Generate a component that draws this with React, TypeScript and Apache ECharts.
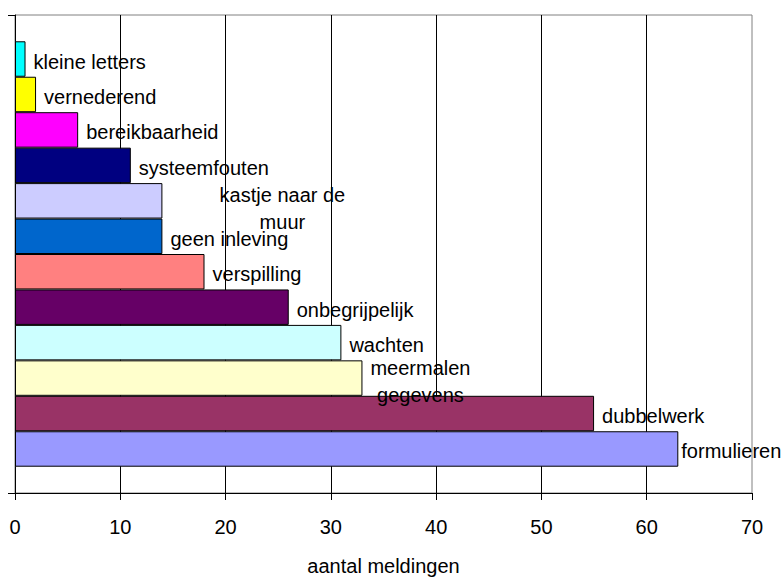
import React, { useEffect, useRef } from 'react';
import * as echarts from 'echarts';

const categories = [
  'kleine letters',
  'vernederend',
  'bereikbaarheid',
  'systeemfouten',
  'kastje naar de muur',
  'geen inleving',
  'verspilling',
  'onbegrijpelijk',
  'wachten',
  'meermalen gegevens',
  'dubbelwerk',
  'formulieren',
];
const labelTexts = [
  'kleine letters',
  'vernederend',
  'bereikbaarheid',
  'systeemfouten',
  'kastje naar de\nmuur',
  'geen inleving',
  'verspilling',
  'onbegrijpelijk',
  'wachten',
  'meermalen\ngegevens',
  'dubbelwerk',
  'formulieren',
];
const values = [1, 2, 6, 11, 14, 14, 18, 26, 31, 33, 55, 63];
const colors = [
  '#00FFFF',
  '#FFFF00',
  '#FF00FF',
  '#000080',
  '#CCCCFF',
  '#0066CC',
  '#FF8080',
  '#660066',
  '#CCFFFF',
  '#FFFFCC',
  '#993366',
  '#9999FF',
];
const axisName = 'aantal meldingen';

const FONT = '"Liberation Sans", Arial, sans-serif';

export default function App() {
  const ref = useRef<HTMLDivElement>(null);
  useEffect(() => {
    const chart = echarts.init(ref.current!, null, { renderer: 'svg' });
    const labelFor = (i: number) => {
      const base: any = {
        show: true,
        position: 'right',
        distance: i === labelTexts.length - 1 ? 3 : 8,
        color: '#000',
        fontSize: 20,
        fontFamily: FONT,
        formatter: labelTexts[i],
        offset: [0, 2.5],
      };
      if (labelTexts[i].includes('\n')) {
        base.align = 'center';
        base.lineHeight = 27;
        base.distance = 0;
        base.offset = i === 4 ? [120, 7.5] : [58, 3];
      }
      return base;
    };
    chart.setOption({
      animation: false,
      backgroundColor: '#fff',
      textStyle: { fontFamily: FONT },
      grid: {
        left: 15,
        right: 30,
        top: 15,
        bottom: 82,
        show: true,
        borderColor: '#808080',
        borderWidth: 1,
        backgroundColor: 'transparent',
      },
      xAxis: {
        type: 'value',
        min: 0,
        max: 70,
        interval: 10,
        axisLine: { show: true, lineStyle: { color: '#000', width: 1 } },
        axisTick: { show: true, length: 7, lineStyle: { color: '#000' } },
        splitLine: { show: true, showMaxLine: false, lineStyle: { color: '#000', width: 1 } },
        axisLabel: { color: '#000', fontSize: 20, margin: 24, fontFamily: FONT },
        name: axisName,
        nameLocation: 'middle',
        nameGap: 63,
        nameTextStyle: { color: '#000', fontSize: 20, fontFamily: FONT },
      },
      yAxis: {
        type: 'category',
        data: [''],
        axisLine: { show: true, lineStyle: { color: '#000', width: 1 } },
        axisTick: { show: true, length: 7, lineStyle: { color: '#000' } },
        axisLabel: { show: false },
        splitLine: { show: false },
      },
      series: categories.map((name, i) => ({
        type: 'bar',
        name,
        data: [values[i]],
        barGap: '0%',
        barCategoryGap: '11%',
        itemStyle: { color: colors[i], borderColor: '#000', borderWidth: 1 },
        label: labelFor(i),
      })),
    });
    return () => chart.dispose();
  }, []);
  return (
    <div
      ref={ref}
      style={{ position: 'fixed', left: 0, top: 0, width: 782, height: 581 }}
    />
  );
}
